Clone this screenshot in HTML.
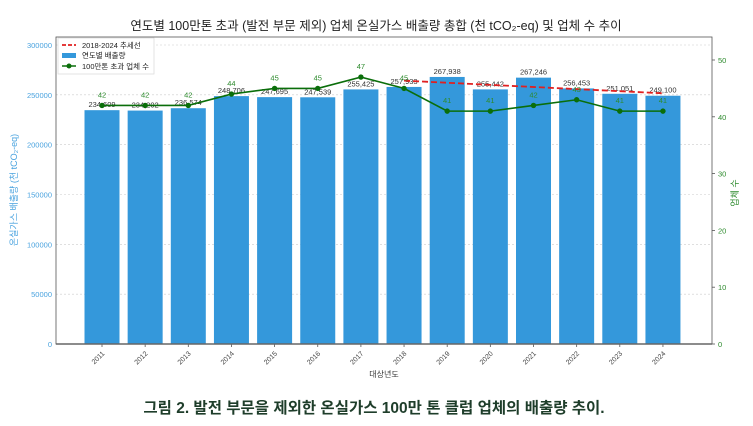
<!DOCTYPE html>
<html><head><meta charset="utf-8">
<style>
body{margin:0;background:#fff;}
svg{display:block;font-family:"Liberation Sans","Noto Sans CJK KR",sans-serif;}
</style></head>
<body>
<svg id="chart" width="753" height="426">
<text x="376" y="30" text-anchor="middle" font-size="12.5" fill="#222">연도별 100만톤 초과 (발전 부문 제외) 업체 온실가스 배출량 총합 (천 tCO₂-eq) 및 업체 수 추이</text>
<g id="grid"></g>
<g id="bars"></g>
<g id="line"></g>
<g id="axes"></g>
<text transform="translate(17,190) rotate(-90)" text-anchor="middle" font-size="9" fill="#4aa3df">온실가스 배출량 (천 tCO₂-eq)</text>
<text transform="translate(738,193) rotate(-90)" text-anchor="middle" font-size="9" fill="#2e8b2e">업체 수</text>
<text x="384" y="377" text-anchor="middle" font-size="8" fill="#333">대상년도</text>
<g>
<rect x="58" y="38" width="96" height="36" fill="#fff" stroke="#ddd" stroke-width="0.8"/>
<line x1="62" y1="45" x2="76" y2="45" stroke="#e02020" stroke-width="1.8" stroke-dasharray="4,2"/>
<text x="82" y="48" font-size="7.5" fill="#222">2018-2024 추세선</text>
<rect x="62" y="53" width="14" height="5" fill="#3498db"/>
<text x="82" y="58" font-size="7.5" fill="#222">연도별 배출량</text>
<line x1="62" y1="66" x2="76" y2="66" stroke="#0a6e0a" stroke-width="1.5"/>
<circle cx="69" cy="66" r="2.5" fill="#0a6e0a"/>
<text x="82" y="69" font-size="7.5" fill="#222">100만톤 초과 업체 수</text>
</g>
<text x="374" y="413" text-anchor="middle" font-size="15.5" font-weight="bold" fill="#1e3d2a">그림 2. 발전 부문을 제외한 온실가스 100만 톤 클럽 업체의 배출량 추이.</text>
</svg>
<script>
const years=["2011","2012","2013","2014","2015","2016","2017","2018","2019","2020","2021","2022","2023","2024"];
const emissions=[234609,234202,236574,248706,247695,247539,255425,257933,267938,255442,267246,256453,251051,249100];
const counts=[42,42,42,44,45,45,47,45,41,41,42,43,41,41];
const leftTicks=[0,50000,100000,150000,200000,250000,300000];
const rightTicks=[0,10,20,30,40,50];
const NS="http://www.w3.org/2000/svg";
const L=56,R=712,T=37,B=344;
const x0=102,step=43.15,bw=35;
const xs=i=>x0+i*step;
const yL=v=>B-v/300000*(B-45);
const yR=v=>B-v/50*(B-60);
function mk(tag,attrs,parent,text){const e=document.createElementNS(NS,tag);for(const k in attrs)e.setAttribute(k,attrs[k]);if(text!==undefined)e.textContent=text;parent.appendChild(e);return e;}
const grid=document.getElementById('grid'),bars=document.getElementById('bars'),line=document.getElementById('line'),axes=document.getElementById('axes');
leftTicks.forEach(t=>{
 if(t>0){const g=mk('line',{x1:L,x2:R,y1:yL(t),y2:yL(t),stroke:'#ccc','stroke-width':0.6,'stroke-dasharray':'2,2'},grid);
 
 }
 const tx=mk('text',{x:L-4,y:yL(t)+3,'text-anchor':'end','font-size':7.5,fill:'#4aa3df'},axes,String(t));
 
 
});
rightTicks.forEach(t=>{
 mk('line',{x1:R,x2:R+3,y1:yR(t),y2:yR(t),stroke:'#555','stroke-width':0.8},axes);
 const tx=mk('text',{x:R+6,y:yR(t)+3,'font-size':7.5,fill:'#2e8b2e'},axes,String(t));
 
 
});
years.forEach((y,i)=>{
 const r=mk('rect',{x:xs(i)-bw/2,y:yL(emissions[i]),width:bw,height:B-yL(emissions[i]),fill:'#3498db'},bars);
 
 
 const lb=mk('text',{x:xs(i),y:yL(emissions[i])-3,'text-anchor':'middle','font-size':7.5,fill:'#333'},bars,emissions[i].toLocaleString('en-US'));
 
 
 mk('line',{x1:xs(i),x2:xs(i),y1:B,y2:B+3,stroke:'#555','stroke-width':0.8},axes);
 const xl=mk('text',{transform:`translate(${xs(i)+3},${B+10}) rotate(-45)`,'text-anchor':'end','font-size':7,fill:'#444'},axes,y);
 
 
});
const idx=[],vals=[];years.forEach((y,i)=>{if(+y>=2018){idx.push(i);vals.push(emissions[i]);}});
const n=idx.length,mx=idx.reduce((a,b)=>a+b)/n,my=vals.reduce((a,b)=>a+b)/n;
let sxy=0,sxx=0;idx.forEach((xv,k)=>{sxy+=(xv-mx)*(vals[k]-my);sxx+=(xv-mx)**2;});
const sl=sxy/sxx,ic=my-sl*mx;
const i0=idx[0],i1=idx[n-1];
const tr=mk('line',{x1:xs(i0),y1:yL(ic+sl*i0),x2:xs(i1),y2:yL(ic+sl*i1),stroke:'#e02020','stroke-width':1.8,'stroke-dasharray':'6,3'},line);


const pts=counts.map((c,i)=>xs(i)+','+yR(c)).join(' ');
const pl=mk('polyline',{points:pts,fill:'none',stroke:'#0a6e0a','stroke-width':1.6},line);


counts.forEach((c,i)=>{
 const p=mk('circle',{cx:xs(i),cy:yR(c),r:2.7,fill:'#0a6e0a'},line);
 
 
 const t=mk('text',{x:xs(i),y:yR(c)-8,'text-anchor':'middle','font-size':7.5,fill:'#2e8b2e'},line,String(c));
 
 
});
mk('rect',{x:L,y:T,width:R-L,height:B-T,fill:'none',stroke:'#555','stroke-width':0.8},axes);
mk('line',{x1:L,x2:R,y1:B,y2:B,stroke:'#666','stroke-width':1.5},axes);
</script>
</body></html>
